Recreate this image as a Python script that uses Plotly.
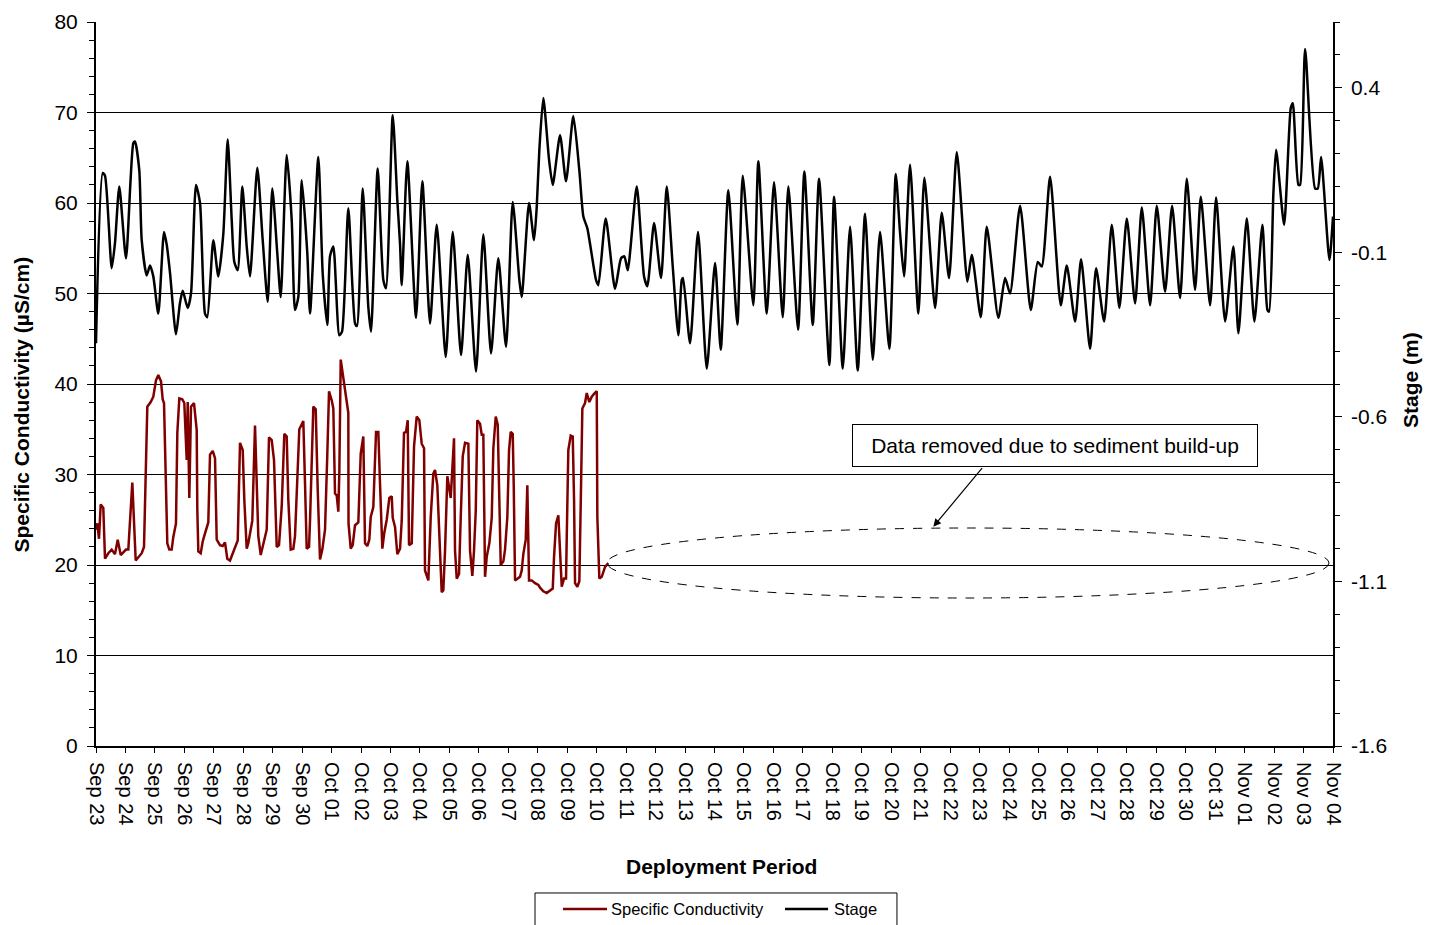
import pandas as pd
import plotly.graph_objects as go

# ---------------- data ----------------
start_date = "2009-09-23"
end_date = "2009-11-04"

# Stage (m): time offset in days from Sep 23 00:00, and stage value
stage_days = [0.000, 0.228, 0.306, 0.533, 0.645, 0.791, 1.019, 1.267, 1.324, 1.470,
              1.552, 1.722, 1.834, 1.946, 2.115, 2.309, 2.401, 2.513, 2.716, 2.852,
              2.944, 3.114, 3.226, 3.396, 3.531, 3.701, 3.779, 3.983, 4.153, 4.323,
              4.472, 4.608, 4.696, 4.812, 4.968, 5.117, 5.229, 5.477, 5.660, 5.830,
              5.986, 6.156, 6.272, 6.475, 6.645, 6.757, 6.869, 6.985, 7.175, 7.267,
              7.548, 7.698, 7.854, 7.946, 8.058, 8.262, 8.353, 8.567, 8.795, 8.862,
              9.056, 9.246, 9.338, 9.565, 9.756, 9.847, 10.075, 10.231, 10.323, 10.380,
              10.571, 10.866, 11.080, 11.341, 11.569, 11.874, 12.112, 12.394, 12.622, 12.903,
              13.151, 13.413, 13.660, 13.922, 14.149, 14.374, 14.455, 14.703, 14.873, 14.965,
              15.053, 15.188, 15.382, 15.508, 15.756, 15.959, 16.207, 16.411, 16.547, 16.683,
              16.978, 17.056, 17.307, 17.623, 17.827, 17.939, 18.054, 18.360, 18.608, 18.720,
              18.948, 19.185, 19.379, 19.582, 19.773, 19.888, 19.932, 20.170, 20.441, 20.737,
              21.019, 21.212, 21.470, 21.776, 21.959, 22.319, 22.489, 22.774, 23.022, 23.317,
              23.508, 23.837, 24.051, 24.336, 24.550, 24.900, 25.059, 25.355, 25.603, 25.864,
              26.112, 26.374, 26.621, 26.937, 27.155, 27.300, 27.436, 27.640, 27.922, 28.126,
              28.489, 28.716, 28.964, 29.226, 29.586, 29.735, 30.041, 30.244, 30.638, 30.866,
              31.036, 31.375, 31.739, 31.976, 32.112, 32.394, 32.757, 32.961, 33.243, 33.447,
              33.752, 33.956, 34.228, 34.489, 34.747, 34.999, 35.280, 35.508, 35.790, 36.017,
              36.299, 36.537, 36.808, 37.036, 37.317, 37.511, 37.827, 38.031, 38.336, 38.618,
              38.788, 39.073, 39.331, 39.603, 39.773, 39.830, 39.976, 40.068, 40.340, 40.567,
              40.635, 40.825, 40.883, 41.053, 41.392, 41.484, 41.596, 41.878, 42.000]
stage_m = [-0.376, 0.141, 0.133, -0.148, -0.071, 0.100, -0.118, 0.232, 0.237, 0.149,
           -0.063, -0.170, -0.140, -0.173, -0.286, -0.038, -0.077, -0.162, -0.349, -0.253,
           -0.217, -0.269, -0.225, 0.105, 0.050, -0.286, -0.297, -0.063, -0.173, -0.044,
           0.243, -0.002, -0.129, -0.154, 0.100, -0.082, -0.173, 0.157, -0.063, -0.250,
           0.094, -0.104, -0.236, 0.196, -0.002, -0.275, -0.236, 0.119, -0.104, -0.286,
           0.190, -0.165, -0.321, -0.112, -0.082, -0.352, -0.341, 0.034, -0.316, -0.324,
           0.094, -0.266, -0.341, 0.155, -0.184, -0.209, 0.317, 0.058, -0.074, -0.200,
           0.177, -0.299, 0.116, -0.316, -0.016, -0.418, -0.038, -0.412, -0.107, -0.462,
           -0.046, -0.407, -0.118, -0.387, 0.053, -0.184, -0.236, 0.050, -0.063, 0.039,
           0.212, 0.369, 0.182, 0.105, 0.256, 0.116, 0.314, 0.149, 0.009, -0.027,
           -0.184, -0.200, 0.003, -0.211, -0.118, -0.112, -0.154, 0.100, -0.173, -0.203,
           -0.011, -0.178, 0.100, -0.143, -0.352, -0.184, -0.178, -0.376, -0.038, -0.453,
           -0.132, -0.396, 0.089, -0.319, 0.133, -0.261, 0.177, -0.286, 0.113, -0.297,
           0.100, -0.335, 0.146, -0.321, 0.124, -0.442, 0.069, -0.453, -0.022, -0.459,
           0.017, -0.426, -0.038, -0.393, 0.138, -0.041, -0.173, 0.166, -0.286, 0.127,
           -0.269, 0.020, -0.178, 0.204, -0.189, -0.107, -0.297, -0.022, -0.299, -0.178,
           -0.225, 0.042, -0.275, -0.129, -0.143, 0.130, -0.261, -0.140, -0.310, -0.121,
           -0.393, -0.148, -0.310, -0.016, -0.269, 0.003, -0.255, 0.036, -0.261, 0.042,
           -0.220, 0.042, -0.239, 0.124, -0.214, 0.069, -0.261, 0.067, -0.310, -0.082,
           -0.346, 0.003, -0.310, -0.016, -0.275, -0.280, 0.080, 0.212, -0.016, 0.339,
           0.353, 0.105, 0.105, 0.518, 0.094, 0.094, 0.190, -0.123, 0.009]

# Specific conductivity (uS/cm): time offset in days and value
cond_days = [0.000, 0.044, 0.102, 0.160, 0.248, 0.306, 0.418, 0.533, 0.645, 0.737,
             0.839, 1.019, 1.097, 1.233, 1.348, 1.552, 1.630, 1.688, 1.742, 1.857,
             1.946, 2.037, 2.115, 2.207, 2.265, 2.309, 2.377, 2.421, 2.489, 2.570,
             2.625, 2.716, 2.761, 2.829, 2.930, 2.998, 3.080, 3.114, 3.168, 3.226,
             3.328, 3.419, 3.440, 3.474, 3.555, 3.623, 3.701, 3.813, 3.871, 3.963,
             4.041, 4.098, 4.211, 4.302, 4.380, 4.458, 4.550, 4.662, 4.743, 4.812,
             4.890, 4.981, 5.036, 5.117, 5.171, 5.229, 5.307, 5.399, 5.457, 5.511,
             5.593, 5.681, 5.796, 5.874, 5.966, 6.044, 6.136, 6.214, 6.306, 6.394,
             6.475, 6.530, 6.611, 6.700, 6.757, 6.903, 7.039, 7.097, 7.154, 7.233,
             7.267, 7.379, 7.460, 7.528, 7.606, 7.684, 7.776, 7.854, 7.912, 8.003,
             8.058, 8.115, 8.173, 8.228, 8.262, 8.309, 8.397, 8.479, 8.567, 8.574,
             8.649, 8.716, 8.795, 8.907, 8.988, 9.076, 9.134, 9.212, 9.280, 9.328,
             9.416, 9.508, 9.586, 9.643, 9.722, 9.790, 9.871, 9.959, 10.041, 10.075,
             10.153, 10.231, 10.323, 10.380, 10.458, 10.526, 10.584, 10.628, 10.720, 10.798,
             10.889, 10.978, 11.059, 11.138, 11.171, 11.284, 11.365, 11.453, 11.511, 11.589,
             11.681, 11.738, 11.793, 11.851, 11.929, 12.044, 12.156, 12.190, 12.248, 12.326,
             12.384, 12.452, 12.530, 12.642, 12.699, 12.778, 12.835, 12.893, 12.947, 13.039,
             13.097, 13.151, 13.209, 13.266, 13.355, 13.436, 13.491, 13.572, 13.640, 13.695,
             13.742, 13.831, 13.888, 13.966, 14.024, 14.081, 14.149, 14.183, 14.228, 14.319,
             14.397, 14.455, 14.509, 14.591, 14.645, 14.703, 14.795, 14.907, 15.019, 15.076,
             15.188, 15.304, 15.416, 15.508, 15.552, 15.620, 15.698, 15.756, 15.813, 15.891,
             15.959, 15.983, 16.037, 16.119, 16.187, 16.231, 16.265, 16.343, 16.411, 16.469,
             16.513, 16.604, 16.662, 16.750, 16.832, 16.910, 17.002, 17.022, 17.090, 17.172,
             17.284, 17.396]
cond_us = [23.9, 24.6, 22.9, 26.7, 26.3, 20.7, 21.3, 21.7, 21.2, 22.8,
           21.1, 21.7, 21.7, 29.1, 20.5, 21.3, 22.0, 31.6, 37.5, 38.0,
           38.6, 40.4, 41.0, 40.3, 38.3, 37.9, 29.0, 22.4, 21.7, 21.7,
           23.1, 24.6, 34.6, 38.4, 38.3, 37.9, 31.6, 38.0, 27.4, 37.5,
           37.9, 34.9, 26.1, 21.5, 21.3, 22.6, 23.5, 24.7, 32.2, 32.6,
           31.8, 22.8, 22.2, 22.1, 22.5, 20.7, 20.5, 21.5, 22.1, 22.7,
           33.5, 32.7, 27.2, 21.8, 22.4, 23.6, 24.9, 35.4, 29.8, 23.2,
           21.1, 22.4, 23.9, 34.1, 33.8, 31.6, 22.0, 22.2, 26.5, 34.5,
           34.2, 27.2, 21.7, 21.8, 23.2, 35.0, 35.9, 29.0, 21.8, 22.0,
           24.9, 37.5, 37.2, 28.3, 20.6, 21.7, 23.9, 32.3, 39.2, 38.2,
           37.3, 27.9, 27.7, 25.9, 30.3, 42.7, 40.8, 38.9, 36.8, 24.6,
           21.8, 22.2, 24.4, 24.7, 32.3, 34.2, 22.4, 22.1, 22.8, 25.3,
           26.4, 34.7, 34.7, 29.0, 21.8, 23.6, 25.0, 27.4, 27.6, 25.2,
           24.2, 21.2, 21.8, 24.9, 34.6, 34.7, 36.0, 22.2, 22.4, 33.1,
           36.4, 36.0, 33.4, 32.9, 19.4, 18.3, 25.3, 30.1, 30.5, 28.8,
           21.6, 17.0, 17.2, 21.6, 29.8, 27.4, 34.0, 21.6, 18.5, 19.0,
           25.3, 32.0, 33.5, 33.4, 21.6, 18.8, 21.6, 25.9, 36.0, 35.6,
           34.4, 34.4, 18.7, 20.9, 22.4, 25.2, 32.9, 36.4, 35.5, 28.3,
           20.0, 20.4, 21.7, 25.3, 32.7, 34.7, 34.5, 28.9, 18.3, 18.5,
           18.7, 19.4, 21.2, 22.8, 28.8, 18.3, 18.3, 18.0, 17.8, 17.5,
           17.1, 16.9, 17.2, 17.4, 20.9, 24.6, 25.5, 21.6, 17.6, 18.5,
           18.5, 23.0, 32.7, 34.3, 34.2, 27.3, 18.0, 17.6, 18.2, 28.8,
           37.3, 37.9, 39.0, 38.0, 38.6, 38.9, 39.2, 25.3, 18.5, 18.7,
           19.8, 20.2]

left_ticks = [0, 10, 20, 30, 40, 50, 60, 70, 80]
right_ticks = [-1.6, -1.1, -0.6, -0.1, 0.4]
right_tick_labels = ["-1.6", "-1.1", "-0.6", "-0.1", "0.4"]
series_names = ["Specific Conductivity", "Stage"]
series_colors = ["#800000", "black"]

# ---------------- figure ----------------
t0 = pd.Timestamp(start_date)
stage_x = t0 + pd.to_timedelta(stage_days, unit="D")
cond_x = t0 + pd.to_timedelta(cond_days, unit="D")

FONT = "Liberation Sans, Arial, sans-serif"

fig = go.Figure()
fig.add_trace(go.Scatter(
    x=cond_x, y=cond_us, name=series_names[0], mode="lines",
    line=dict(color=series_colors[0], width=2.5), yaxis="y"))
fig.add_trace(go.Scatter(
    x=stage_x, y=stage_m, name=series_names[1], mode="lines",
    line=dict(color=series_colors[1], width=2.5, shape="spline", smoothing=0.6),
    yaxis="y2"))

fig.update_layout(
    width=1426, height=917,
    margin=dict(l=88, r=101, t=14, b=179, autoexpand=False),
    paper_bgcolor="white", plot_bgcolor="white",
    font=dict(family=FONT, color="black", size=16),
    showlegend=False,
    xaxis=dict(
        type="date", range=[start_date, end_date],
        tick0=start_date, dtick=86400000, tickformat="%b %d", tickangle=90,
        ticks="outside", ticklen=5, tickcolor="black", tickwidth=1,
        tickfont=dict(size=20, family=FONT), ticklabelstandoff=5,
        showline=True, linecolor="black", linewidth=2, showgrid=False,
        zeroline=False, automargin=False),
    yaxis=dict(
        range=[0, 80], tickvals=left_ticks, ticks="outside", ticklen=7,
        tickcolor="black", tickwidth=1, tickfont=dict(size=21, family=FONT),
        ticklabelstandoff=5,
        minor=dict(dtick=2, tick0=0, ticks="outside", ticklen=5, tickcolor="black",
                   showgrid=False),
        showline=True, linecolor="black", linewidth=2,
        showgrid=True, gridcolor="black", gridwidth=1, zeroline=False,
        automargin=False),
    yaxis2=dict(
        range=[-1.6, 0.6], overlaying="y", side="right",
        tickmode="array", tickvals=right_ticks, ticktext=right_tick_labels,
        ticks="outside", ticklen=7, tickcolor="black", tickwidth=1,
        tickfont=dict(size=21, family=FONT), ticklabelstandoff=5,
        minor=dict(tickmode="linear", tick0=-1.6, dtick=0.1, ticks="outside",
                   ticklen=5, tickcolor="black", showgrid=False),
        showline=True, linecolor="black", linewidth=1.5, showgrid=False,
        zeroline=False, automargin=False),
    # inner halves of the crossing minor ticks
    yaxis3=dict(
        range=[0, 80], overlaying="y", side="left", showticklabels=False,
        ticks="", showgrid=False, zeroline=False, showline=False,
        minor=dict(dtick=2, tick0=0, ticks="inside", ticklen=4, tickcolor="black",
                   showgrid=False), automargin=False),
    yaxis4=dict(
        range=[-1.6, 0.6], overlaying="y", side="right", showticklabels=False,
        ticks="", showgrid=False, zeroline=False, showline=False,
        minor=dict(tickmode="linear", tick0=-1.6, dtick=0.1, ticks="inside",
                   ticklen=4, tickcolor="black", showgrid=False), automargin=False),
)

# axis titles
fig.add_annotation(text="<b>Specific Conductivity (µS/cm)</b>", xref="paper", yref="paper",
                   x=-0.0606, y=0.4717, textangle=-90, showarrow=False,
                   font=dict(size=21, family=FONT), xanchor="center", yanchor="middle")
fig.add_annotation(text="<b>Stage (m)</b>", xref="paper", yref="paper",
                   x=1.0622, y=0.5055, textangle=-90, showarrow=False,
                   font=dict(size=21, family=FONT), xanchor="center", yanchor="middle")
fig.add_annotation(text="<b>Deployment Period</b>", xref="paper", yref="paper",
                   x=0.5053, y=-0.1671, showarrow=False,
                   font=dict(size=21, family=FONT), xanchor="center", yanchor="middle")

# note box, arrow and dashed ellipse
fig.add_annotation(text="Data removed due to sediment build-up", xref="paper", yref="paper",
                   x=0.7753, y=0.4153, showarrow=False, xanchor="center", yanchor="middle",
                   font=dict(size=21, family=FONT), bordercolor="black", borderwidth=1,
                   borderpad=3, bgcolor="white", width=398, height=35)
fig.add_annotation(text="", xref="paper", yref="paper", x=0.6769, y=0.3029,
                   ax=50, ay=-60, axref="pixel", ayref="pixel", showarrow=True,
                   arrowhead=2, arrowsize=1.3, arrowwidth=1.2, arrowcolor="black")
fig.add_shape(type="circle", xref="paper", yref="paper",
              x0=0.4131, x1=0.9968, y0=0.2044, y1=0.3011,
              line=dict(color="black", width=1, dash="dash"))

# legend box (drawn to match the reference layout)
fig.add_shape(type="rect", xref="paper", yref="paper",
              x0=0.3549, x1=0.6475, y0=-0.2030, y1=-0.2700,
              line=dict(color="black", width=1), fillcolor="white")
legend_line_x = [(0.3775, 0.4131), (0.5570, 0.5918)]
legend_text_x = [0.4147, 0.5950]
for name, color, (lx0, lx1), tx in zip(series_names, series_colors, legend_line_x, legend_text_x):
    fig.add_shape(type="line", xref="paper", yref="paper", x0=lx0, x1=lx1,
                  y0=-0.2251, y1=-0.2251, line=dict(color=color, width=2.5))
    fig.add_annotation(text=name, xref="paper", yref="paper", x=tx, y=-0.2251,
                       xanchor="left", yanchor="middle", showarrow=False,
                       font=dict(size=16.5, family=FONT))

fig.write_html("out.html")
